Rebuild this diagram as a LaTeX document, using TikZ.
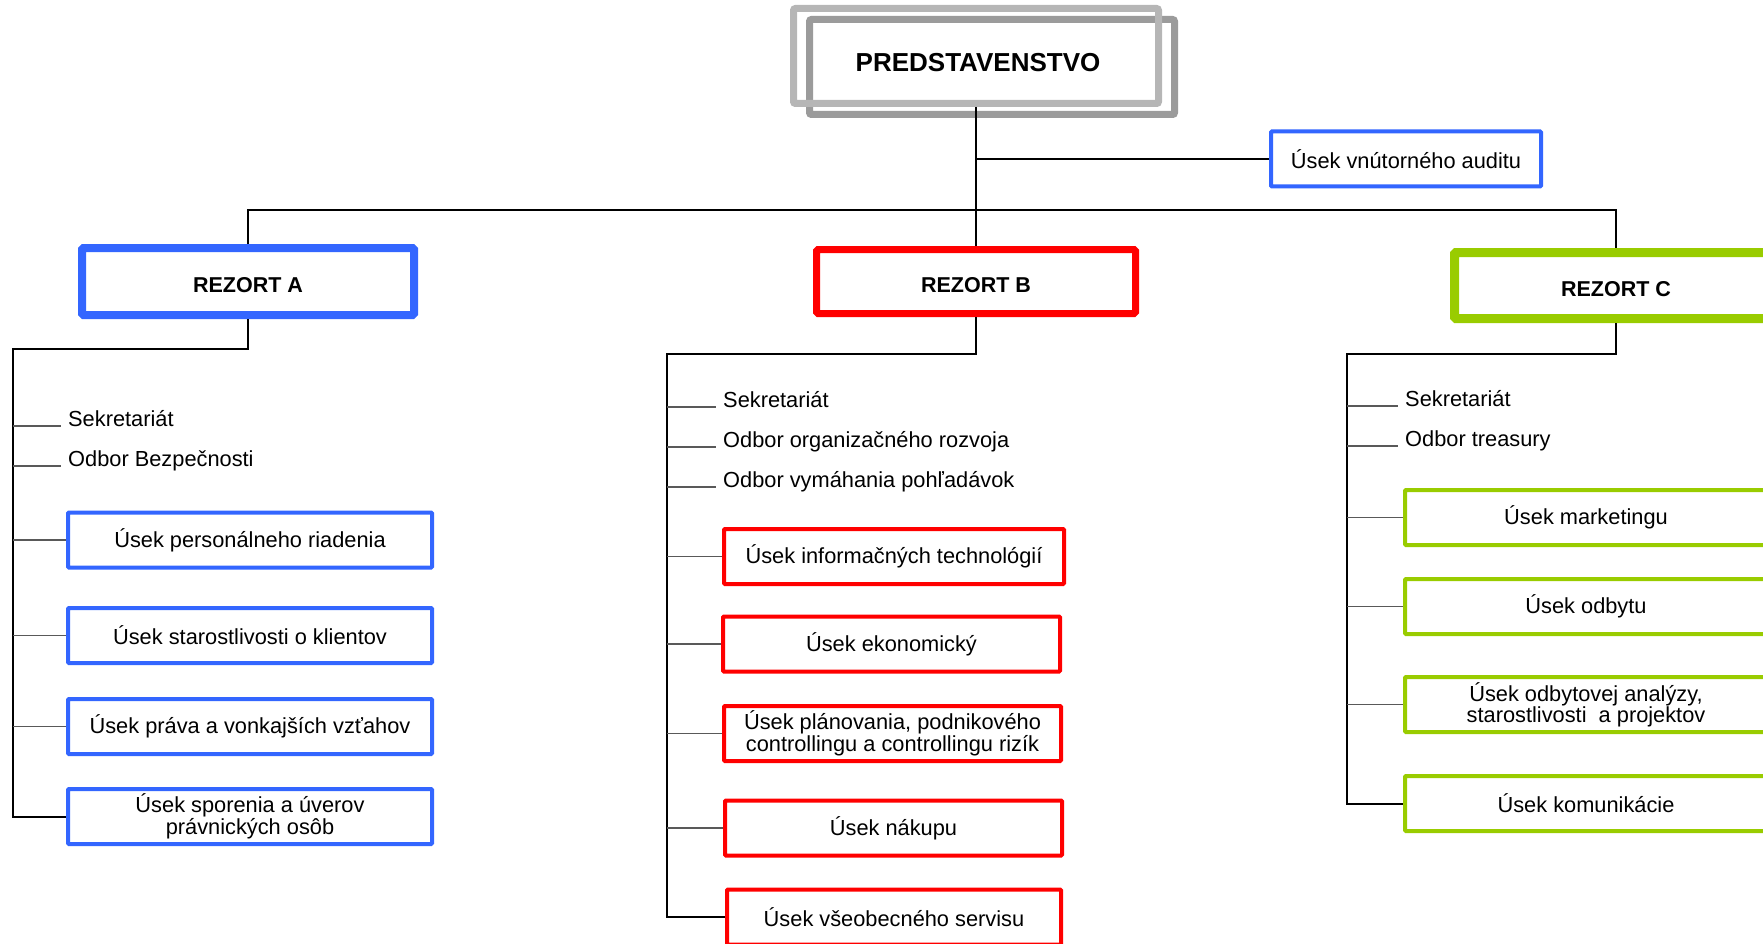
\documentclass[tikz,border=0pt]{standalone}
\usepackage{fontspec}
\setmainfont{Liberation Sans}
\usetikzlibrary{positioning}
\definecolor{blueA}{RGB}{51,102,255}
\definecolor{redB}{RGB}{255,0,0}
\definecolor{greenC}{RGB}{153,204,0}
\definecolor{grayL}{RGB}{182,182,182}
\definecolor{grayD}{RGB}{155,155,155}
\newcommand{\usekfont}{\fontsize{21.8}{20}\selectfont}

\begin{document}
\begin{tikzpicture}[x=1pt, y=-1pt]
        \tikzstyle{bossframe} = [rectangle, draw, line width=7pt, minimum width=365pt, minimum height=95pt, rounded corners=2pt]
        \tikzstyle{rezort} = [rectangle, draw, inner sep=0pt, text height=21pt, text depth=0pt, rounded corners=1.5pt, font=\bfseries\fontsize{21.5}{24}\selectfont]
        \tikzstyle{usek} = [rectangle, draw, line width=4pt, minimum height=55pt, align=center, inner sep=0pt, rounded corners=1pt, font=\usekfont]
        \tikzstyle{item} = [anchor=base west, inner xsep=7pt, inner ysep=0pt, font=\usekfont]
        \tikzstyle{link} = [line width=2pt]
        \tikzstyle{twig} = [line width=1.5pt, black!65]

        \useasboundingbox (0,0) rectangle (1763,944);

        % vedenie
        \node [bossframe, draw=grayD] (frameback) at (992,67) {};
        \node [bossframe, draw=grayL] (framefront) at (976,56) {};
        \node [font=\bfseries\fontsize{26}{30}\selectfont] (boss) at (978,63) {PREDSTAVENSTVO};
        \node [usek, draw=blueA, minimum width=270pt] (audit) at (1406,159) {Úsek vnútorného auditu};

        \node [rezort, draw=blueA, line width=8pt, minimum width=332pt, minimum height=67pt] (rezA) at (248,281.5) {REZORT A};
        \node [rezort, draw=redB, line width=7pt, minimum width=319pt, minimum height=64pt] (rezB) at (976,281.5) {REZORT B};
        \node [rezort, draw=greenC, line width=9pt, minimum width=323pt, minimum height=66pt] (rezC) at (1616,285.5) {REZORT C};

        \coordinate (bus) at (976,210);
        \draw [link] (framefront.south) -- (rezB.north);
        \draw [link] (rezA.north) |- (bus) -| (rezC.north);
        \draw [line width=1.5pt] (framefront.south |- audit.west) -- (audit.west);

        % rezort A
        \node [item] (sekA) at (61,426) {Sekretariát};
        \node [item] (bezA) at (61,466) {Odbor Bezpečnosti};
        \node [usek, draw=blueA, minimum width=364pt] (a1) at (250,540) {Úsek personálneho riadenia};
        \node [usek, draw=blueA, minimum width=364pt] (a2) at (250,635.5) {Úsek starostlivosti o klientov};
        \node [usek, draw=blueA, minimum width=364pt] (a3) at (250,726.5) {Úsek práva a vonkajších vzťahov};
        \node [usek, draw=blueA, minimum width=364pt] (a4) at (250,816.5) {Úsek sporenia a úverov\\právnických osôb};

        \coordinate (trunkA) at (13,349);
        \draw [link] (rezA.south) |- (trunkA) |- (a4.west);
        \foreach \n in {sekA.base west, bezA.base west, a1.west, a2.west, a3.west}
            \draw [twig] (trunkA |- \n) -- (\n);

        % rezort B
        \node [item] (sekB) at (716,407) {Sekretariát};
        \node [item] (orgB) at (716,447) {Odbor organizačného rozvoja};
        \node [item] (vymB) at (716,487) {Odbor vymáhania pohľadávok};
        \node [usek, draw=redB, minimum width=340pt] (b1) at (894,556.5) {Úsek informačných technológií};
        \node [usek, draw=redB, minimum width=337pt] (b2) at (891.5,644) {Úsek ekonomický};
        \node [usek, draw=redB, minimum width=337pt] (b3) at (892.5,733.5) {Úsek plánovania, podnikového\\controllingu a controllingu rizík};
        \node [usek, draw=redB, minimum width=337pt] (b4) at (893.5,828) {Úsek nákupu};
        \node [usek, draw=redB, minimum width=334pt] (b5) at (894,917) {Úsek všeobecného servisu};

        \coordinate (trunkB) at (667,354);
        \draw [link] (rezB.south) |- (trunkB) |- (b5.west);
        \foreach \n in {sekB.base west, orgB.base west, vymB.base west, b1.west, b2.west, b3.west, b4.west}
            \draw [twig] (trunkB |- \n) -- (\n);

        % rezort C
        \node [item] (sekC) at (1398,406) {Sekretariát};
        \node [item] (treC) at (1398,446) {Odbor treasury};
        \node [usek, draw=greenC, minimum width=362pt] (c1) at (1586,517.5) {Úsek marketingu};
        \node [usek, draw=greenC, minimum width=362pt] (c2) at (1586,606.5) {Úsek odbytu};
        \node [usek, draw=greenC, minimum width=362pt] (c3) at (1586,704.5) {Úsek odbytovej analýzy,\\starostlivosti \ a projektov};
        \node [usek, draw=greenC, minimum width=362pt] (c4) at (1586,803.5) {Úsek komunikácie};

        \coordinate (trunkC) at (1347,354);
        \draw [link] (rezC.south) |- (trunkC) |- (c4.west);
        \foreach \n in {sekC.base west, treC.base west, c1.west, c2.west, c3.west}
            \draw [twig] (trunkC |- \n) -- (\n);
    \end{tikzpicture}
\end{document}
